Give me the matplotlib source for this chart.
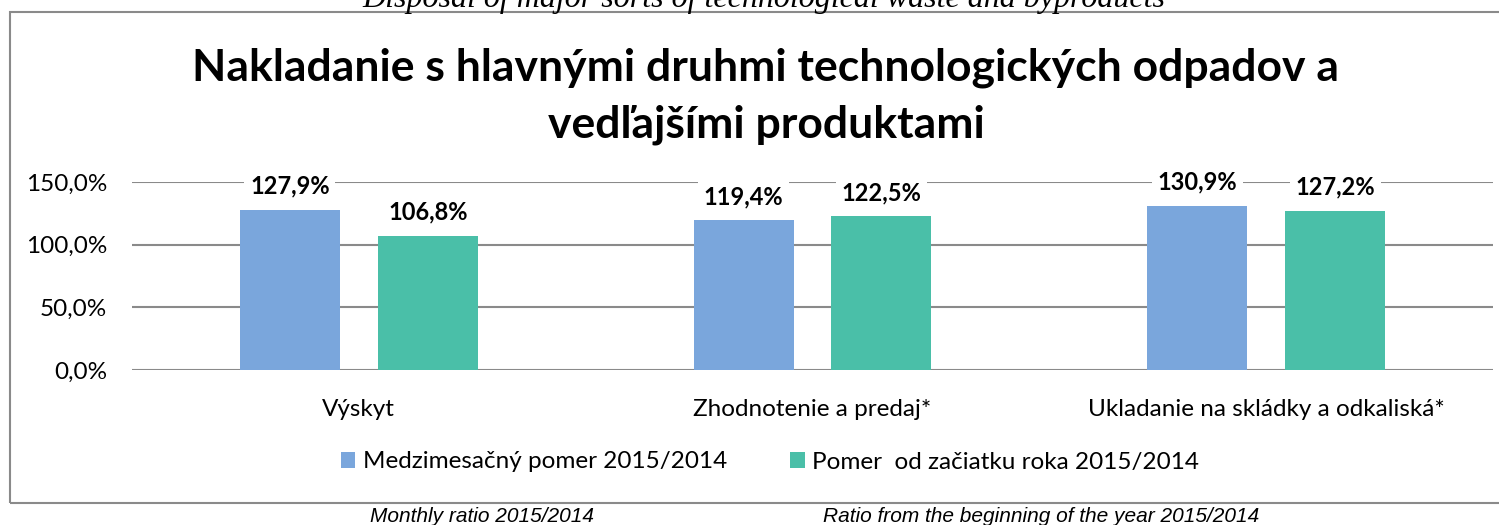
import matplotlib
matplotlib.use("Agg")
import matplotlib.pyplot as plt
from matplotlib.patches import Patch, Rectangle

# ── Data ─────────────────────────────────────────────────────────────────────
CATEGORIES = ["Výskyt", "Zhodnotenie a predaj*", "Ukladanie na skládky a odkaliská*"]
MONTHLY = [127.9, 119.4, 130.9]        # Medzimesačný pomer 2015/2014
FROM_START = [106.8, 122.5, 127.2]     # Pomer od začiatku roka 2015/2014
SERIES_NAMES = ["Medzimesačný pomer 2015/2014", "Pomer  od začiatku roka 2015/2014"]
YTICKS = [0, 50, 100, 150]

TITLE = "Nakladanie s hlavnými druhmi technologických odpadov a\nvedľajšími produktami"
TOP_NOTE = "Disposal of major sorts of technological waste and byproducts"
BOTTOM_NOTES = ["Monthly ratio 2015/2014", "Ratio from the beginning of the year 2015/2014"]

COLORS = ["#7AA6DC", "#4ABFA8"]
FONT = "Lato"


def pct(v):
    return f"{v:.1f}%".replace(".", ",")


fig = plt.figure(figsize=(14.99, 5.25), dpi=100)
W, H = 1499, 525

# chart frame (right edge runs off the picture)
fig.patches.append(Rectangle((10 / W, 1 - 503 / H), 1.2, (503 - 12) / H,
                             transform=fig.transFigure, fill=False,
                             edgecolor="#8a8a8a", linewidth=1.5))

ax = fig.add_axes([132 / W, 1 - 370 / H, (1493 - 132) / W, (370 - 182) / H])

x = range(len(CATEGORIES))
bw = 100 / 453.7
gap = 38 / 453.7
off = (bw + gap) / 2
for i, (vals, c) in enumerate([(MONTHLY, COLORS[0]), (FROM_START, COLORS[1])]):
    xs = [k + (off if i else -off) for k in x]
    ax.bar(xs, vals, width=bw, color=c, zorder=3)
    for xx, v in zip(xs, vals):
        ax.text(xx, v + 19, pct(v), ha="center", va="center", fontsize=17,
                fontweight="bold", family=FONT, zorder=4, clip_on=False,
                bbox=dict(facecolor="white", edgecolor="none", pad=4))

ax.set_xlim(-0.5, 2.5)
ax.set_ylim(0, 150)
ax.set_yticks(YTICKS)
ax.set_yticklabels([pct(v) for v in YTICKS], fontsize=17.5, family=FONT)
ax.set_xticks(list(x))
ax.set_xticklabels(CATEGORIES, fontsize=17.5, family=FONT)
ax.tick_params(length=0)
ax.tick_params(axis="y", pad=18)
ax.tick_params(axis="x", pad=21)
for s in ax.spines.values():
    s.set_visible(False)
ax.grid(axis="y", color="#8a8a8a", linewidth=1.5, zorder=0)
ax.set_axisbelow(True)

fig.text(766 / W, 1 - 96 / H, TITLE, ha="center", va="center", fontsize=32,
         fontweight="bold", family=FONT, linespacing=1.5)
fig.text(764 / W, 1 - 7 / H, TOP_NOTE, ha="center", va="baseline", fontsize=23,
         style="italic", family="Liberation Serif")
fig.text(482 / W, 1 - 517 / H, BOTTOM_NOTES[0], ha="center", va="center",
         fontsize=15, style="italic", family="Liberation Sans")
fig.text(1041 / W, 1 - 517 / H, BOTTOM_NOTES[1], ha="center", va="center",
         fontsize=15, style="italic", family="Liberation Sans")

handles = [Patch(facecolor=c, edgecolor="none") for c in COLORS]
fig.legend(handles, SERIES_NAMES, loc="center", bbox_to_anchor=(770 / W, 1 - 462 / H),
           ncol=2, frameon=False, prop={"family": FONT, "size": 17.5},
           handlelength=0.6, handleheight=0.6, handletextpad=0.3, columnspacing=2.6)

fig.savefig("out.png", dpi=100)
